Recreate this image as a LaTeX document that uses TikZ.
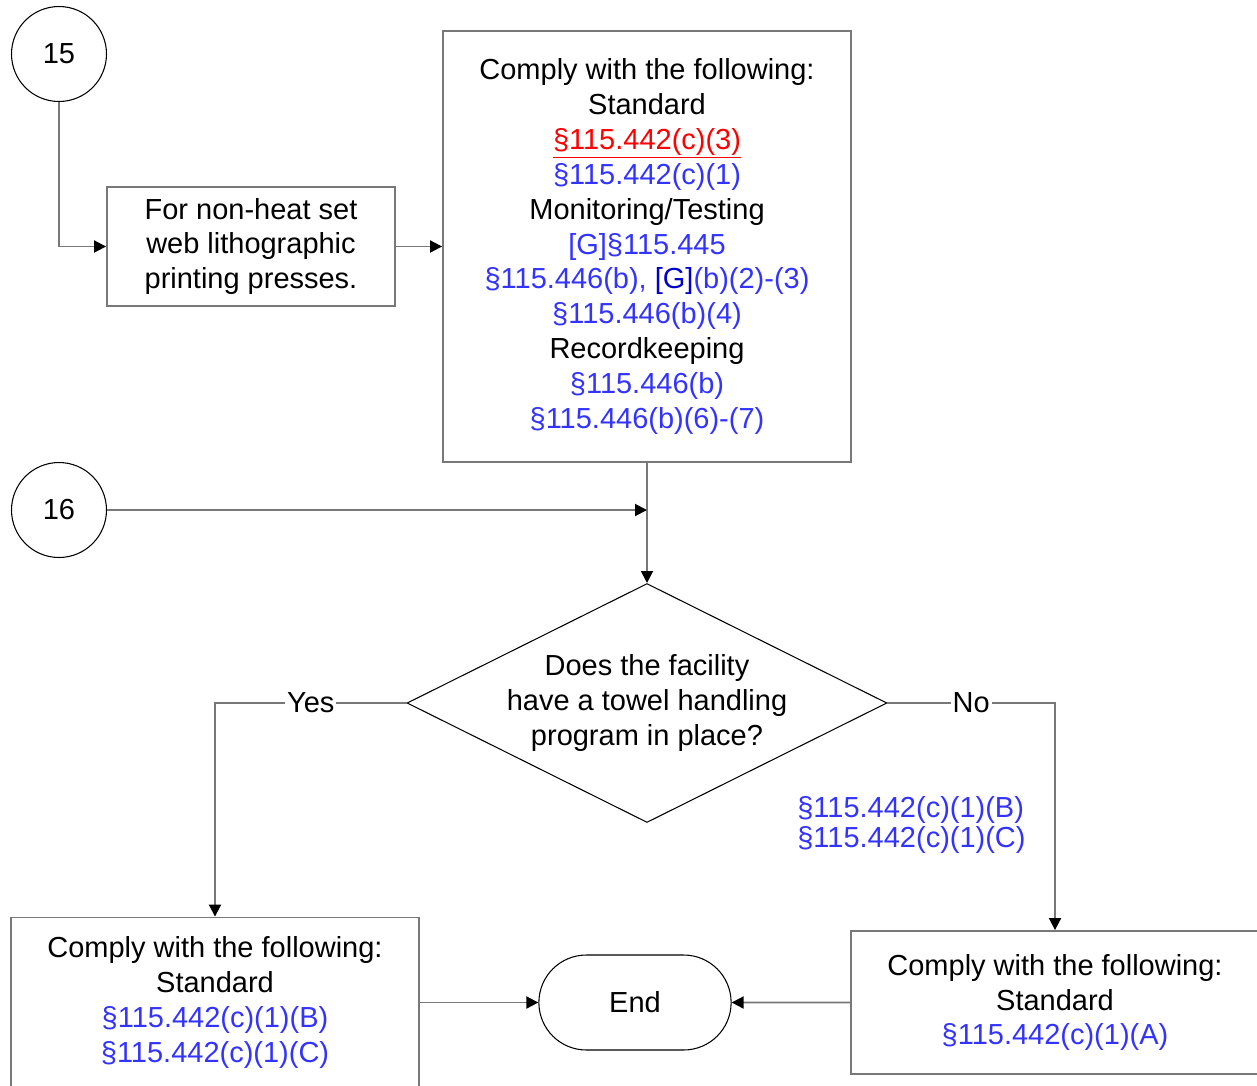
\documentclass[tikz,border=0pt]{standalone}
\usepackage{fontspec}
\setmainfont{Liberation Sans}
\usetikzlibrary{shapes.geometric,shapes.misc,arrows.meta}
\definecolor{cite}{RGB}{51,51,255}
\definecolor{gcite}{RGB}{0,0,204}
\definecolor{edge}{RGB}{120,120,120}
\newcommand{\cit}[1]{\textcolor{cite}{#1}}

\begin{document}
\begin{tikzpicture}[x=0.02cm, y=-0.02cm,
    every node/.style={font=\fontsize{16.5}{19.9}\selectfont},
    connector/.style={circle, draw, line width=0.6pt, minimum size=1.9cm, inner sep=0pt},
    process/.style={rectangle, draw=edge, line width=1.1pt, align=center, inner sep=0pt, minimum width=8.16cm},
    decision/.style={diamond, draw, line width=0.6pt, shape aspect=2, inner sep=-3pt,
                     minimum width=9.6cm, minimum height=4.78cm, align=center},
    terminal/.style={rounded rectangle, draw, line width=0.6pt, minimum width=4.08cm, minimum height=1.9cm},
    flow/.style={draw=edge, line width=1.1pt, -{Triangle[length=0.24cm, width=0.24cm, color=black]}},
    answer/.style={fill=white, inner sep=1pt}]
   \useasboundingbox (0,0) rectangle (1257,1085);

   \node[connector] (c15) at (59,54) {15};
   \node[connector] (c16) at (59,510) {16};
   \node[process, minimum width=5.76cm, minimum height=2.38cm] (lith) at (251,246.5)
     {For non-heat set\\ web lithographic\\ printing presses.};
   \node[process, minimum height=8.62cm] (req) at (647,246.5)
     {Comply with the following:\\ Standard\\
      \textcolor{red}{\underline{§115.442(c)(3)}}\\
      \cit{§115.442(c)(1)}\\
      Monitoring/Testing\\
      \cit{[G]§115.445}\\
      \cit{§115.446(b), \textcolor{gcite}{[G]}(b)(2)-(3)}\\
      \cit{§115.446(b)(4)}\\
      Recordkeeping\\
      \cit{§115.446(b)}\\
      \cit{§115.446(b)(6)-(7)}};
   \coordinate (join) at (647,510);
   \node[decision] (ask) at (647,703)
     {Does the facility\\ have a towel handling\\ program in place?};
   \node[process, minimum height=3.4cm] (yesbox) at (215,1002.5)
     {Comply with the following:\\ Standard\\
      \cit{§115.442(c)(1)(B)}\\
      \cit{§115.442(c)(1)(C)}};
   \node[process, minimum height=2.86cm] (nobox) at (1055,1002.5)
     {Comply with the following:\\ Standard\\
      \cit{§115.442(c)(1)(A)}};
   \node[terminal] (stop) at (635,1002.5) {End};
   \node[anchor=west, inner sep=0pt, align=left, text=cite,
         font=\fontsize{16.5}{17.6}\selectfont] (noref) at (797,825)
     {§115.442(c)(1)(B)\\ §115.442(c)(1)(C)};

   \draw[flow] (c15) |- (lith);
   \draw[flow] (lith) -- (req);
   \draw[flow] (req) -- (ask);
   \draw[flow] (c16) -- (join);
   \draw[flow] (ask.west) -| node[answer, pos=0.25] {Yes} (yesbox.north);
   \draw[flow] (ask.east) -| node[answer, pos=0.25] {No} (nobox.north);
   \draw[flow] (yesbox) -- (stop);
   \draw[flow] (nobox) -- (stop);
\end{tikzpicture}
\end{document}
